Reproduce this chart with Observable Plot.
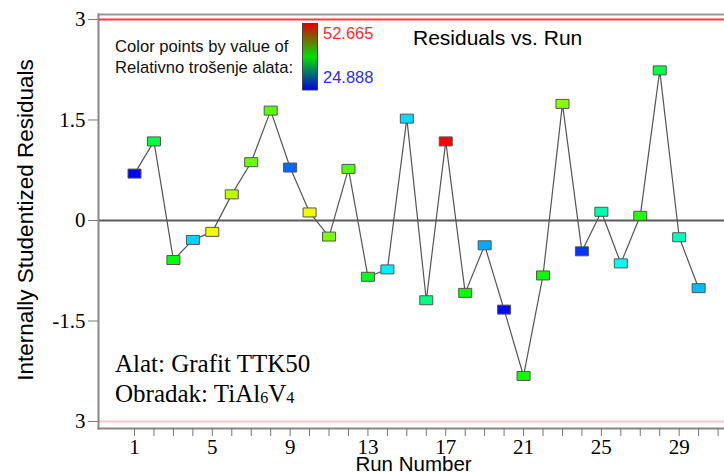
<!DOCTYPE html>
<html><head><meta charset="utf-8">
<script src="https://cdn.jsdelivr.net/npm/d3@7"></script>
<script src="https://cdn.jsdelivr.net/npm/@observablehq/plot@0.6"></script>
<style>body{margin:0;background:#fff} svg{display:block}</style>
</head><body><div id="chart"></div>
<script>
// ---- data ----
const runs = [1,2,3,4,5,6,7,8,9,10,11,12,13,14,15,16,17,18,19,20,21,22,23,24,25,26,27,28,29,30];
const residuals = [0.70,1.18,-0.59,-0.29,-0.17,0.39,0.87,1.64,0.79,0.12,-0.24,0.77,-0.84,-0.73,1.52,-1.19,1.18,-1.08,-0.37,-1.33,-2.32,-0.82,1.74,-0.46,0.13,-0.64,0.07,2.24,-0.25,-1.01];
const wear = [24.888,37.0,38.5,30.7,45.3,43.9,41.6,41.2,27.7,45.3,42.0,41.1,37.9,31.4,30.9,35.3,52.665,39.0,29.5,25.1,39.2,38.8,42.5,26.3,34.1,32.3,39.7,36.9,33.7,30.0];
const xTicks = [1,2,3,4,5,6,7,8,9,10,11,12,13,14,15,16,17,18,19,20,21,22,23,24,25,26,27,28,29,30,31];
const xTickLabels = [1,5,9,13,17,21,25,29];
const yTicks = [-3,-1.5,0,1.5,3];
const yTickLabels = ["3","-1.5","0","1.5","3"];
const limitLines = [3,-3];
const colorRange = ["#0000ff","#00ffff","#00ff00","#ffff00","#ff0000"];
const title = "Residuals vs. Run";
const xLabel = "Run Number";
const yLabel = "Internally Studentized Residuals";
const legendLines = ["Color points by value of","Relativno trošenje alata:"];

const data = runs.map((r,i)=>({run:r, resid:residuals[i], wear:wear[i]}));
const wMin = d3.min(wear), wMax = d3.max(wear);
const colorDomain = d3.range(5).map(k => wMin + (wMax - wMin) * k / 4);

const boxSymbol = {draw(ctx){ ctx.moveTo(-6.5,-4.5); ctx.lineTo(6.5,-4.5); ctx.lineTo(6.5,4.5); ctx.lineTo(-6.5,4.5); ctx.closePath(); }};

const serif = "'Liberation Serif', 'Times New Roman', serif";
const sans = "'Liberation Sans', Arial, sans-serif";

const svg = Plot.plot({
  width: 724, height: 473,
  marginLeft: 98, marginRight: 0, marginTop: 14, marginBottom: 45,
  style: {fontFamily: serif, fontSize: "21px", color: "#000", background: "#fff", overflow: "visible"},
  x: {domain: [-0.851, 31.33]},
  y: {domain: [-3.104, 3.074]},
  color: {type: "linear", domain: colorDomain, range: colorRange, interpolate: "rgb"},
  marks: [
    Plot.ruleY([limitLines[0]], {stroke: "#ff3a3a", strokeWidth: 2}),
    Plot.ruleY([limitLines[1]], {stroke: "#ffc6c6", strokeWidth: 2}),
    Plot.ruleY([0], {stroke: "#5a5a5a", strokeWidth: 2}),
    Plot.frame({anchor: "top", stroke: "#999", strokeWidth: 2}),
    Plot.frame({anchor: "left", stroke: "#888", strokeWidth: 2}),
    Plot.frame({anchor: "bottom", stroke: "#888", strokeWidth: 2}),
    Plot.axisY(yTicks, {tickSize: 10, tickPadding: 3, stroke: "#777", fill: "#000",
      tickFormat: d => yTickLabels[yTicks.indexOf(d)], label: null, fontSize: 21, fontFamily: serif}),
    Plot.axisX(xTicks, {tickSize: 8, tickPadding: 3, stroke: "#777", fill: "#000",
      tickFormat: d => xTickLabels.includes(d) ? String(d) : "", label: null, fontSize: 21, fontFamily: serif}),
    Plot.line(data, {x: "run", y: "resid", stroke: "#555", strokeWidth: 1.2}),
    Plot.dot(data, {x: "run", y: "resid", fill: "wear", stroke: "#555", strokeWidth: 1, symbol: boxSymbol})
  ]
});

const s = d3.select(svg);
const addText = (x, y, txt, font, size, fill, anchor) => s.append("text")
  .attr("x", x).attr("y", y).attr("text-anchor", anchor || "start")
  .style("font-family", font).style("font-size", size).attr("fill", fill).text(txt);
// y label
s.append("text").attr("transform", "translate(32.5,220) rotate(-90)").attr("text-anchor", "middle")
  .style("font-family", sans).style("font-size", "22.5px").attr("fill", "#000").text(yLabel);
// x label
addText(413.5, 471, xLabel, sans, "20.5px", "#000", "middle");
// title
addText(413, 45, title, sans, "21px", "#000");
// legend text
legendLines.forEach((t, i) => addText(115, 52 + i * 21, t, sans, "16.6px", "#111"));
// colour bar
const grad = s.append("defs").append("linearGradient").attr("id", "cbar")
  .attr("x1", 0).attr("y1", 0).attr("x2", 0).attr("y2", 1);
[["0%", "#e00000"], ["50%", "#00e000"], ["100%", "#0000e0"]].forEach(([o, c]) =>
  grad.append("stop").attr("offset", o).attr("stop-color", c));
s.append("rect").attr("x", 302.5).attr("y", 23.5).attr("width", 15).attr("height", 66.5)
  .attr("fill", "url(#cbar)").attr("stroke", "#444").attr("stroke-width", 1);
addText(323, 38.5, d3.format(".3f")(wMax), sans, "16.5px", "#ff2a2a");
addText(323, 83, d3.format(".3f")(wMin), sans, "16.5px", "#2a2aff");
// bottom-left annotation
addText(115, 372, "Alat: Grafit TTK50", serif, "25px", "#000");
const t2 = s.append("text").attr("x", 115).attr("y", 402).attr("text-anchor", "start")
  .style("font-family", serif).style("font-size", "25px").attr("fill", "#000");
t2.append("tspan").text("Obradak: TiAl");
t2.append("tspan").style("font-size", "16px").attr("dy", 1).text("6");
t2.append("tspan").attr("dy", -1).text("V");
t2.append("tspan").style("font-size", "16px").attr("dy", 1).text("4");

document.getElementById("chart").appendChild(svg);
</script>
</body></html>
